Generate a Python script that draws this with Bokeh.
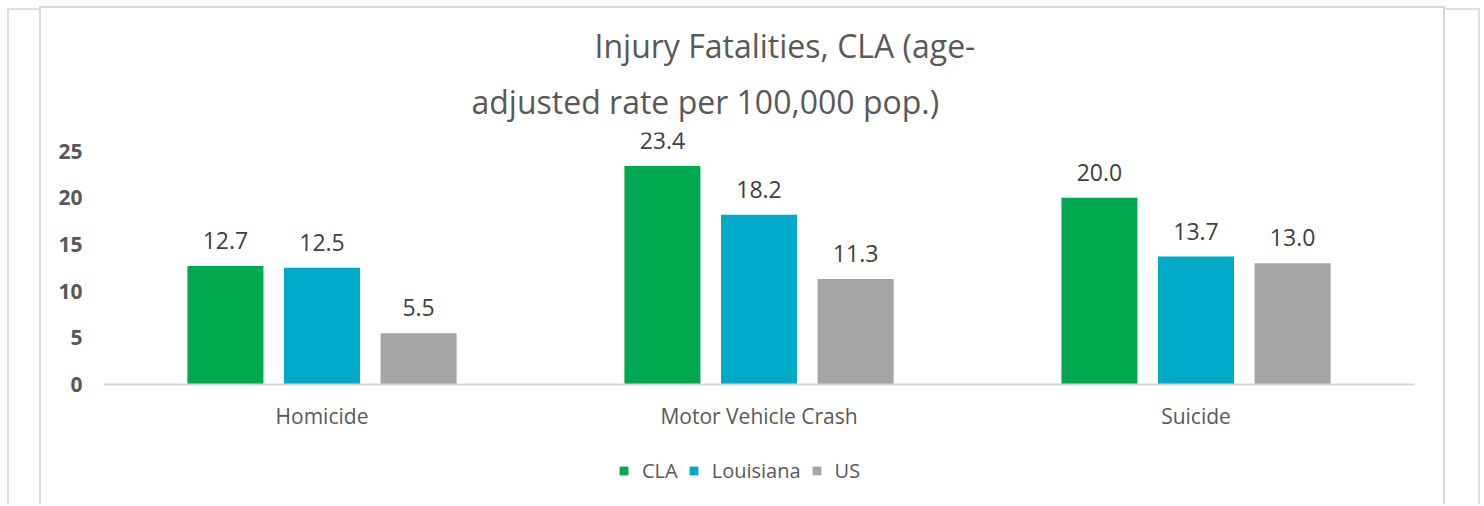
from bokeh.plotting import figure
from bokeh.models import (ColumnDataSource, Range1d, FixedTicker, LabelSet, Legend,
                          LegendItem, Title, Spacer, Div)
from bokeh.transform import dodge
from bokeh.layouts import row, column
from bokeh.core.properties import value
from bokeh.embed import file_html
from bokeh.resources import INLINE

# ---- data ----
categories = ["Homicide", "Motor Vehicle Crash", "Suicide"]
series_names = ["CLA", "Louisiana", "US"]
cla_values = [12.7, 23.4, 20.0]
louisiana_values = [12.5, 18.2, 13.7]
us_values = [5.5, 11.3, 13.0]
y_ticks = [0, 5, 10, 15, 20, 25]

colors = ["#00A94F", "#00ABCA", "#A5A5A5"]
series_values = [cla_values, louisiana_values, us_values]
offsets = [-0.221, 0.0, 0.221]

FONT = "Open Sans"
TXT = "#595959"

# plot area extends below the baseline so that category labels and legend sit inside it
p = figure(x_range=categories, y_range=Range1d(-12.86, 27), width=1402, height=496,
           output_backend="svg", toolbar_location=None,
           min_border_left=62, min_border_right=29, min_border_top=124,
           min_border_bottom=0, margin=0)
p.title.visible = False

renderers = []
for name, vals, col, off in zip(series_names, series_values, colors, offsets):
    src = ColumnDataSource(dict(cat=categories, val=vals,
                                lab=["%.1f" % v for v in vals]))
    r = p.vbar(x=dodge("cat", off, range=p.x_range), top="val", bottom=0, width=0.174,
               source=src, fill_color=col, line_color=None)
    renderers.append(r)
    p.add_layout(LabelSet(x=dodge("cat", off, range=p.x_range), y="val", text="lab",
                          source=src, text_align="center", text_baseline="alphabetic",
                          y_offset=17, text_font=value(FONT), text_font_size="23px",
                          text_color="#404040"))

# titles (two lines with different placements, as in the reference)
p.add_layout(Title(text="adjusted rate per 100,000 pop.)", align="left", offset=368,
                   text_font=FONT, text_font_size="32px", text_font_style="normal",
                   text_color=TXT, standoff=20), "above")
p.add_layout(Title(text="Injury Fatalities, CLA (age-", align="left", offset=491,
                   text_font=FONT, text_font_size="32px", text_font_style="normal",
                   text_color=TXT, standoff=1), "above")

# axes
p.xaxis.fixed_location = 0
p.xaxis.major_label_text_font = FONT
p.xaxis.major_label_text_font_size = "21px"
p.xaxis.major_label_text_color = TXT
p.xaxis.axis_line_color = "#D9D9D9"
p.xaxis.axis_line_width = 2
p.xaxis.major_tick_line_color = None
p.xaxis.minor_tick_line_color = None
p.xaxis.major_label_standoff = 12

p.yaxis.ticker = FixedTicker(ticks=y_ticks)
p.yaxis.major_label_text_font = FONT
p.yaxis.major_label_text_font_size = "21px"
p.yaxis.major_label_text_font_style = "bold"
p.yaxis.major_label_text_color = TXT
p.yaxis.axis_line_color = None
p.yaxis.major_tick_line_color = None
p.yaxis.minor_tick_line_color = None
p.yaxis.major_label_standoff = 15

p.xgrid.grid_line_color = None
p.ygrid.grid_line_color = None
p.outline_line_color = None

legend = Legend(items=[LegendItem(label=n, renderers=[r]) for n, r in zip(series_names, renderers)],
                orientation="horizontal", location=(515, 20),
                glyph_width=11, glyph_height=11, label_standoff=13, spacing=10,
                label_text_font=FONT, label_text_font_size="20px", label_text_color=TXT,
                border_line_color=None, background_fill_alpha=0, padding=4, margin=0)
p.add_layout(legend, "center")


def line(w, h, c="#D9D9D9"):
    return Div(text="", width=w, height=h, margin=0,
               styles={"background-color": c})


def vstack(*items):
    return column(*items, spacing=0, margin=0)


OUT = "#E0E0E0"
inner = vstack(Spacer(width=1406, height=6, margin=0),
               line(1406, 2),
               row(line(2, 496), p, line(2, 496), spacing=0, margin=0))
layout = row(Spacer(width=7, height=504, margin=0),
             vstack(Spacer(width=2, height=8, margin=0), line(2, 496, OUT)),
             vstack(Spacer(width=30, height=8, margin=0), line(30, 2, OUT)),
             inner,
             vstack(Spacer(width=33, height=8, margin=0), line(33, 2, OUT)),
             vstack(Spacer(width=2, height=8, margin=0), line(2, 496, OUT)),
             spacing=0, margin=0)

open("out.html", "w").write(file_html(layout, INLINE))
